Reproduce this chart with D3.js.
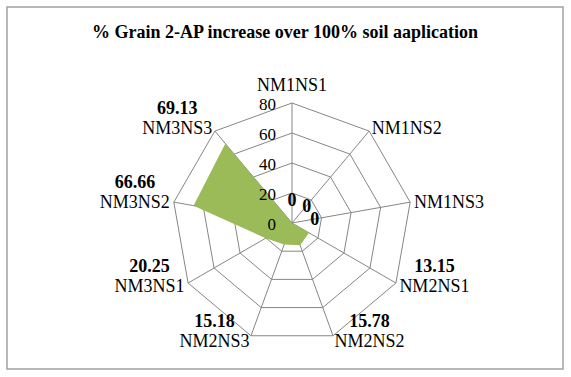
<!DOCTYPE html>
<html>
<head>
<style>
  body { margin: 0; background: #fff; }
</style>
</head>
<body>
<script src="https://d3js.org/d3.v7.min.js"></script>
<script>

  var categories = ["NM1NS1", "NM1NS2", "NM1NS3", "NM2NS1", "NM2NS2",
                    "NM2NS3", "NM3NS1", "NM3NS2", "NM3NS3"];
  var values = [0, 0, 0, 13.15, 15.78, 15.18, 20.25, 66.66, 69.13];
  var valueLabels = ["0", "0", "0", "13.15", "15.78", "15.18", "20.25", "66.66", "69.13"];
  var ticks = [0, 20, 40, 60, 80];
  var title = "% Grain 2-AP increase over 100% soil aaplication";

  var width = 571;
  var height = 377;
  var cx = 292;
  var cy = 223;
  var R = 120;
  var gridColor = "#868686";
  var serif = "'Liberation Serif', 'Times New Roman', 'DejaVu Serif', serif";

  var svg = d3.select("body")
      .append("svg")
      .attr("width", width)
      .attr("height", height)
      .attr("font-family", serif);

  // chart frame
  svg.append("rect")
      .attr("x", 7)
      .attr("y", 7)
      .attr("width", 556)
      .attr("height", 362)
      .attr("fill", "#fff")
      .attr("stroke", "#a0a0a0")
      .attr("stroke-width", 1.5);

  svg.append("text")
      .attr("x", 285)
      .attr("y", 38)
      .attr("text-anchor", "middle")
      .attr("font-family", serif)
      .attr("font-size", 18)
      .attr("font-weight", "bold")
      .text(title);

  var r = d3.scaleLinear().domain([0, 80]).range([0, R]);
  var angle = d3.scalePoint()
      .domain(categories)
      .range([0, 2 * Math.PI * (categories.length - 1) / categories.length]);

  function px(cat, v) { return cx + r(v) * Math.sin(angle(cat)); }
  function py(cat, v) { return cy - r(v) * Math.cos(angle(cat)); }

  var g = svg.append("g");

  // rings
  g.selectAll(".ring")
      .data(ticks.filter(function (t) { return t > 0; }))
      .enter()
        .append("polygon")
        .attr("class", "ring")
        .attr("points", function (t) {
          return categories.map(function (c) { return px(c, t) + "," + py(c, t); }).join(" ");
        })
        .attr("fill", "none")
        .attr("stroke", gridColor)
        .attr("stroke-width", 1);

  // spokes
  g.selectAll(".spoke")
      .data(categories)
      .enter()
        .append("line")
        .attr("class", "spoke")
        .attr("x1", cx)
        .attr("y1", cy)
        .attr("x2", function (c) { return px(c, 80); })
        .attr("y2", function (c) { return py(c, 80); })
        .attr("stroke", gridColor)
        .attr("stroke-width", 1);

  // data area
  var line = d3.lineRadial()
      .angle(function (d, i) { return angle(categories[i]); })
      .radius(function (d) { return r(d); })
      .curve(d3.curveLinearClosed);

  g.append("path")
      .attr("transform", "translate(" + cx + "," + cy + ")")
      .attr("d", line(values))
      .attr("fill", "#9bbb59");

  // tick labels
  g.selectAll(".tick")
      .data(ticks)
      .enter()
        .append("text")
        .attr("class", "tick")
        .attr("x", cx - 16)
        .attr("y", function (t) { return cy - r(t); })
        .attr("dy", "0.4em")
        .attr("text-anchor", "end")
        .attr("font-family", serif)
        .attr("font-size", 17)
        .text(function (t) { return t; });

  // category labels with value labels
  categories.forEach(function (c, i) {
    var a = angle(c);
    var s = Math.sin(a), k = Math.cos(a);
    var anchor = Math.abs(s) < 0.1 ? "middle" : (s > 0 ? "start" : "end");
    var x = px(c, 80) + s * 4;
    var y = py(c, 80) - k * 5 - (Math.abs(s) < 0.1 ? 13 : 0);

    var lab = svg.append("text")
        .attr("x", x)
        .attr("y", y)
        .attr("dy", "0.35em")
        .attr("text-anchor", anchor)
        .attr("font-family", serif)
        .attr("font-size", 18)
        .text(c);

    var vx, vy;
    if (values[i] > 0) {
      var bb = lab.node().getBBox();
      vx = bb.x + bb.width / 2;
      vy = y - 20;
    } else {
      vx = cx + 23 * s;
      vy = cy - 23 * k;
    }
    svg.append("text")
        .attr("x", vx)
        .attr("y", vy)
        .attr("dy", "0.35em")
        .attr("text-anchor", "middle")
        .attr("font-family", serif)
        .attr("font-size", 18)
        .attr("font-weight", "bold")
        .text(valueLabels[i]);
  });

</script>
</body>
</html>
